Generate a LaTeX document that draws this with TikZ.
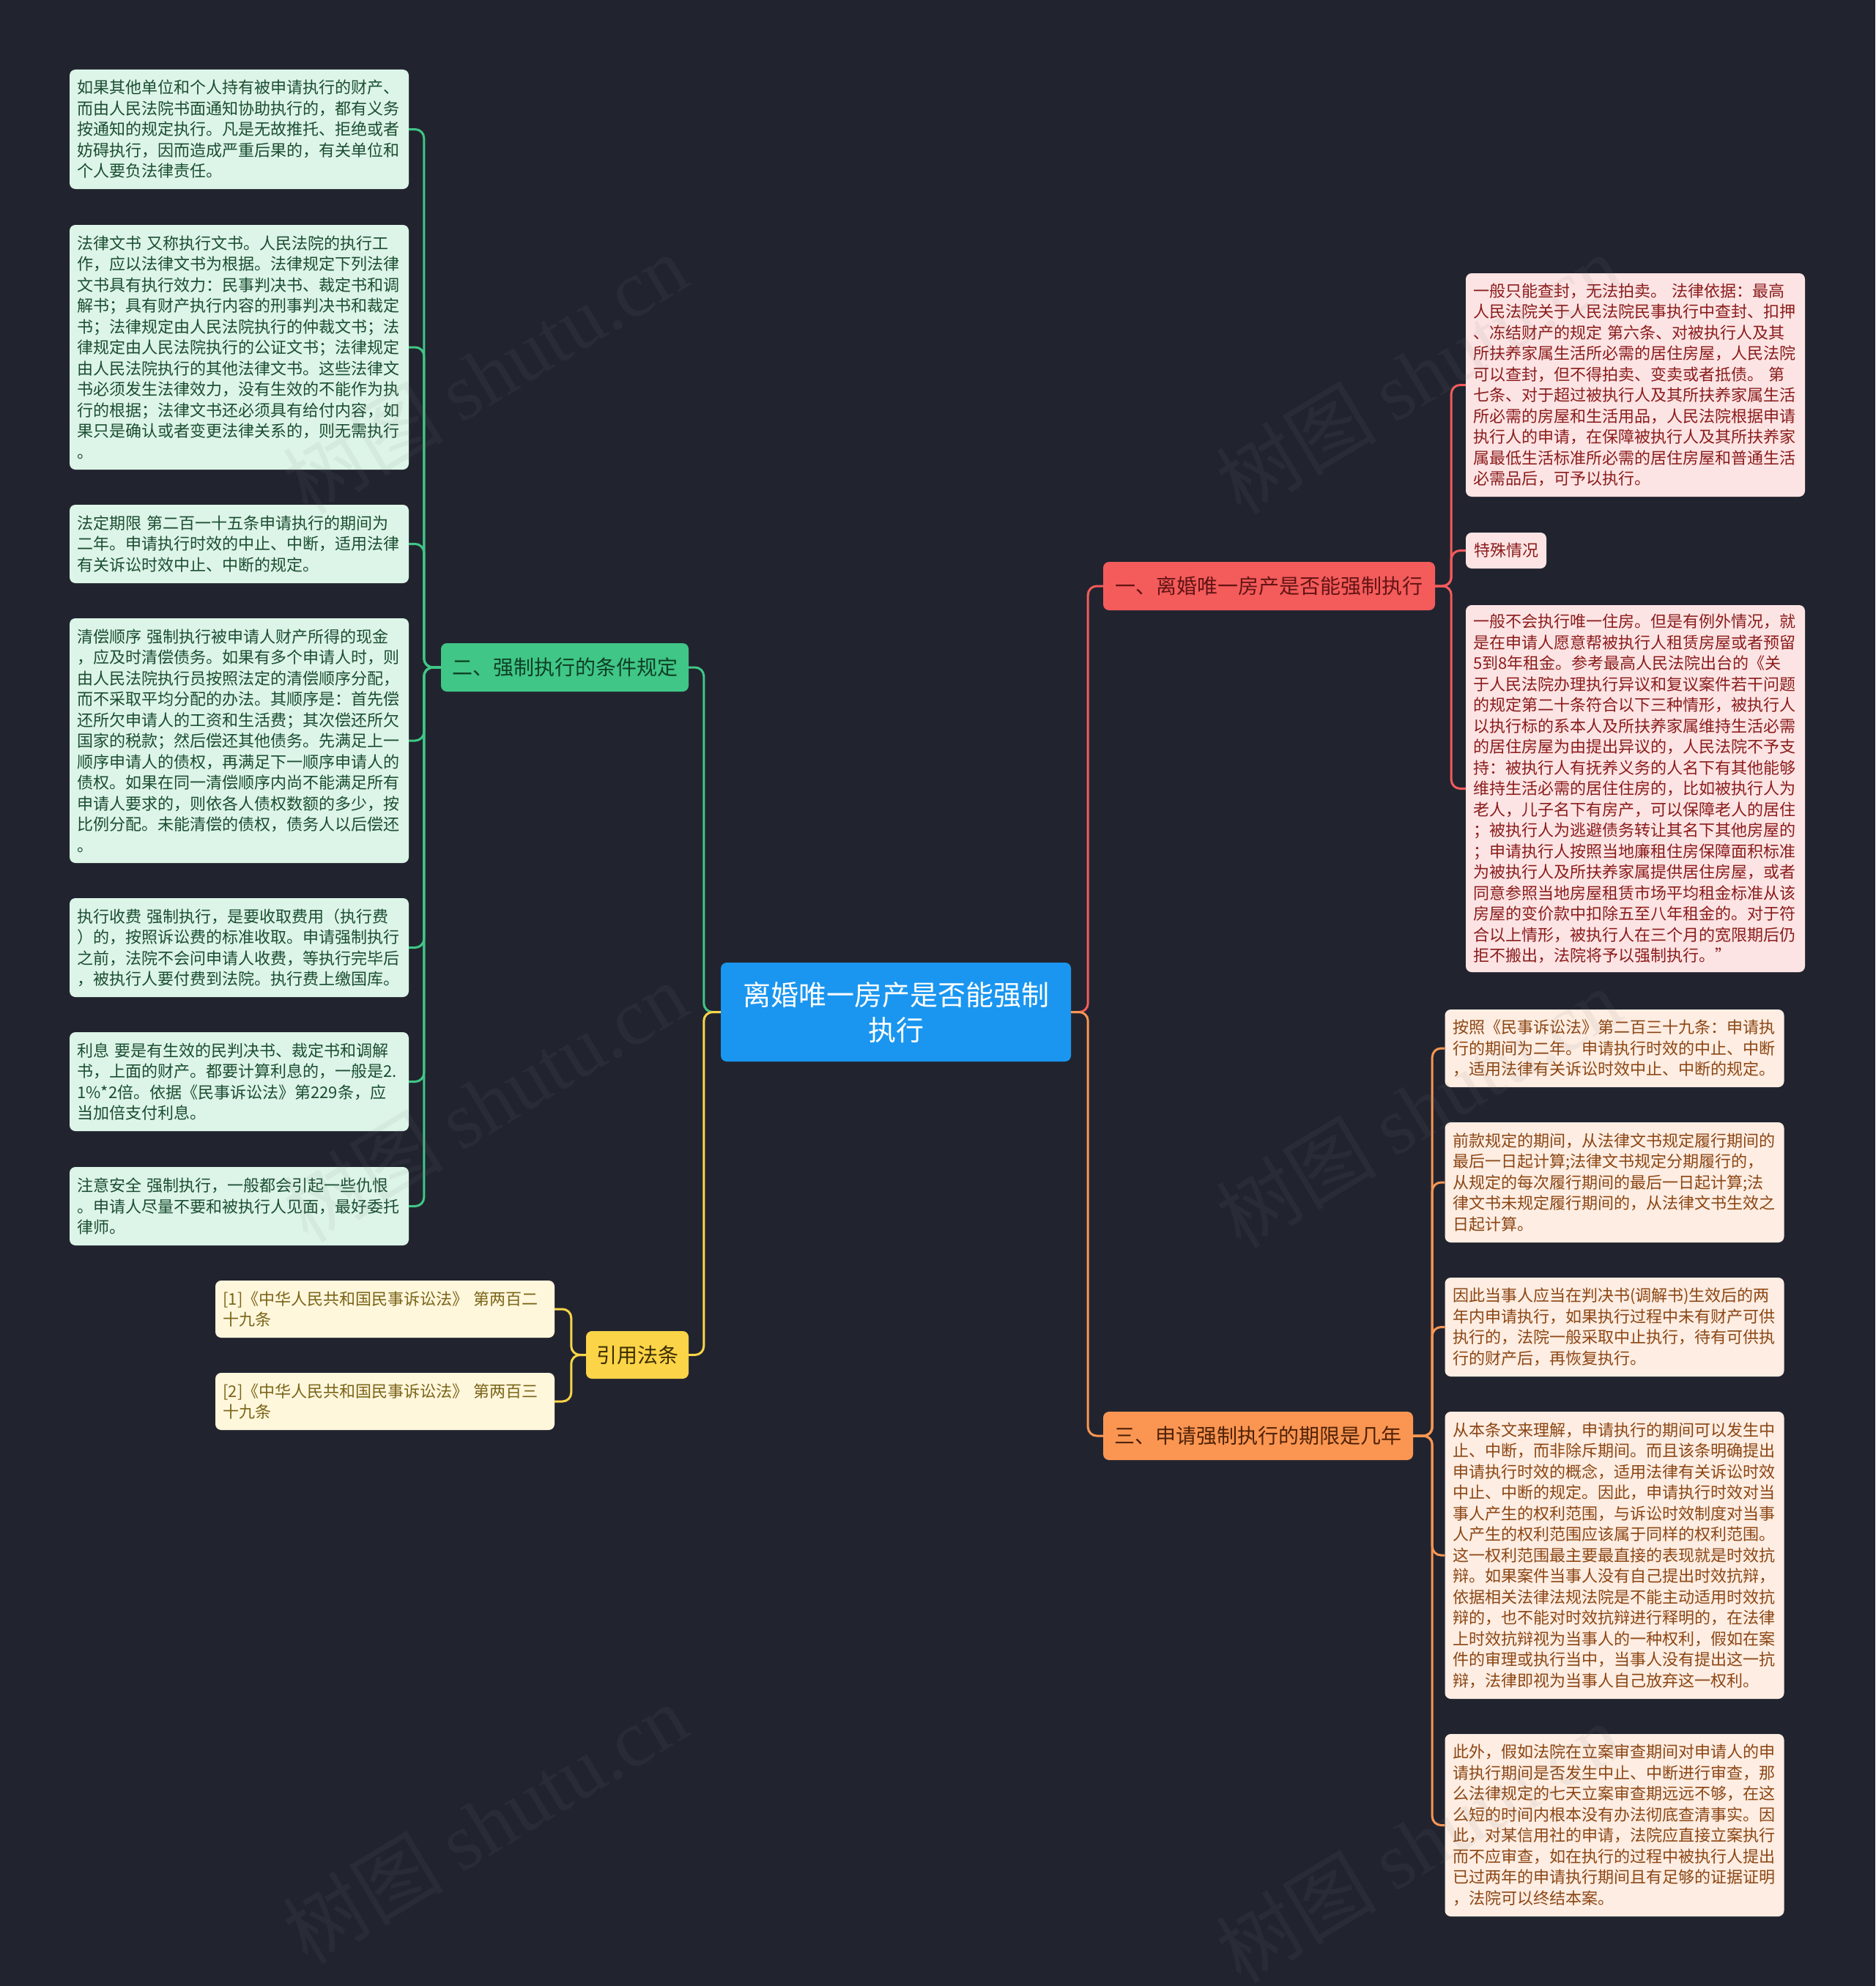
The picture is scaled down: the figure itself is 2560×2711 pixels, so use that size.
\documentclass[tikz,border=0pt]{standalone}
\usepackage{fontspec}
\setmainfont{Noto Sans CJK SC}
\newfontfamily\wmlatin{Liberation Serif}
\definecolor{bg}{RGB}{33,36,47}
\definecolor{cblue}{RGB}{26,150,240}
\definecolor{bred}{RGB}{244,91,91}
\definecolor{bgreen}{RGB}{64,198,134}
\definecolor{byellow}{RGB}{252,212,72}
\definecolor{borange}{RGB}{251,150,82}
\definecolor{tred}{RGB}{100,20,20}
\definecolor{tgreen}{RGB}{14,64,38}
\definecolor{tyellow}{RGB}{60,46,0}
\definecolor{torange}{RGB}{80,34,8}
\definecolor{gfill}{RGB}{221,245,232}
\definecolor{gtext}{RGB}{27,77,50}
\definecolor{rfill}{RGB}{253,228,228}
\definecolor{rtext}{RGB}{139,28,28}
\definecolor{ofill}{RGB}{253,237,226}
\definecolor{otext}{RGB}{140,70,20}
\definecolor{yfill}{RGB}{255,247,220}
\definecolor{ytext}{RGB}{122,100,24}
\definecolor{wmcol}{RGB}{128,128,128}
\tikzset{
  leaf/.style={rounded corners=8pt, text width=442pt, inner xsep=10.5pt, inner ysep=0pt,
    align=left, font=\fontsize{22pt}{28.5pt}\selectfont, anchor=center},
  gleaf/.style={leaf, fill=gfill, text=gtext},
  rleaf/.style={leaf, fill=rfill, text=rtext},
  oleaf/.style={leaf, fill=ofill, text=otext},
  yleaf/.style={leaf, fill=yfill, text=ytext},
  branch/.style={rounded corners=8pt, inner xsep=14pt, inner ysep=0pt, minimum height=66pt,
    font=\fontsize{28pt}{34pt}\selectfont, anchor=center},
  conn/.style={line width=3pt, rounded corners=12pt},
  gline/.style={conn, draw=bgreen},
  rline/.style={conn, draw=bred},
  yline/.style={conn, draw=byellow},
  oline/.style={conn, draw=borange},
  wmark/.style={rotate=31, text=wmcol, opacity=0.09, font=\fontsize{110pt}{110pt}\selectfont}
}
\begin{document}
\begin{tikzpicture}[x=1pt,y=-1pt]
\fill[bg] (0,0) rectangle (2560,2711);
\useasboundingbox (0,0) rectangle (2560,2711);

% central and main branches
\node[rounded corners=8pt, fill=cblue, text=white, minimum width=478pt, minimum height=135pt,
  align=center, inner sep=0pt, font=\fontsize{38pt}{48pt}\selectfont] (c) at (1223,1381.5)
  {离婚唯一房产是否能强制\\执行};
\node[branch, fill=bred, text=tred, minimum width=453pt] (b1) at (1732.5,800) {一、离婚唯一房产是否能强制执行};
\node[branch, fill=bgreen, text=tgreen, minimum width=338pt] (b2) at (771,911) {二、强制执行的条件规定};
\node[branch, fill=byellow, text=tyellow, minimum width=140pt, minimum height=65pt] (b4) at (870,1849.5) {引用法条};
\node[branch, fill=borange, text=torange, minimum width=423pt] (b3) at (1717.5,1960) {三、申请强制执行的期限是几年};

% green leaves
\node[gleaf, minimum height=163pt] (l1) at (326.5,176.5) {如果其他单位和个人持有被申请执行的财产、\\而由人民法院书面通知协助执行的，都有义务\\按通知的规定执行。凡是无故推托、拒绝或者\\妨碍执行，因而造成严重后果的，有关单位和\\个人要负法律责任。};
\node[gleaf, minimum height=334pt] (l2) at (326.5,474) {法律文书 又称执行文书。人民法院的执行工\\作，应以法律文书为根据。法律规定下列法律\\文书具有执行效力：民事判决书、裁定书和调\\解书；具有财产执行内容的刑事判决书和裁定\\书；法律规定由人民法院执行的仲裁文书；法\\律规定由人民法院执行的公证文书；法律规定\\由人民法院执行的其他法律文书。这些法律文\\书必须发生法律效力，没有生效的不能作为执\\行的根据；法律文书还必须具有给付内容，如\\果只是确认或者变更法律关系的，则无需执行\\。};
\node[gleaf, minimum height=107pt] (l3) at (326.5,742.5) {法定期限 第二百一十五条申请执行的期间为\\二年。申请执行时效的中止、中断，适用法律\\有关诉讼时效中止、中断的规定。};
\node[gleaf, minimum height=334pt] (l4) at (326.5,1011) {清偿顺序 强制执行被申请人财产所得的现金\\，应及时清偿债务。如果有多个申请人时，则\\由人民法院执行员按照法定的清偿顺序分配，\\而不采取平均分配的办法。其顺序是：首先偿\\还所欠申请人的工资和生活费；其次偿还所欠\\国家的税款；然后偿还其他债务。先满足上一\\顺序申请人的债权，再满足下一顺序申请人的\\债权。如果在同一清偿顺序内尚不能满足所有\\申请人要求的，则依各人债权数额的多少，按\\比例分配。未能清偿的债权，债务人以后偿还\\。};
\node[gleaf, minimum height=135pt] (l5) at (326.5,1293.5) {执行收费 强制执行，是要收取费用（执行费\\）的，按照诉讼费的标准收取。申请强制执行\\之前，法院不会问申请人收费，等执行完毕后\\，被执行人要付费到法院。执行费上缴国库。};
\node[gleaf, minimum height=135pt] (l6) at (326.5,1476.5) {利息 要是有生效的民判决书、裁定书和调解\\书，上面的财产。都要计算利息的，一般是2.\\1\%*2倍。依据《民事诉讼法》第229条，应\\当加倍支付利息。};
\node[gleaf, minimum height=107pt] (l7) at (326.5,1646.5) {注意安全 强制执行，一般都会引起一些仇恨\\。申请人尽量不要和被执行人见面，最好委托\\律师。};

% yellow leaves
\node[yleaf, minimum height=78pt] (y1) at (525.5,1787) {[1]《中华人民共和国民事诉讼法》 第两百二\\十九条};
\node[yleaf, minimum height=78pt] (y2) at (525.5,1913) {[2]《中华人民共和国民事诉讼法》 第两百三\\十九条};

% red leaves
\node[rleaf, minimum height=305pt] (r1) at (2232.5,525.5) {一般只能查封，无法拍卖。 法律依据：最高\\人民法院关于人民法院民事执行中查封、扣押\\、冻结财产的规定 第六条、对被执行人及其\\所扶养家属生活所必需的居住房屋，人民法院\\可以查封，但不得拍卖、变卖或者抵债。 第\\七条、对于超过被执行人及其所扶养家属生活\\所必需的房屋和生活用品，人民法院根据申请\\执行人的申请，在保障被执行人及其所扶养家\\属最低生活标准所必需的居住房屋和普通生活\\必需品后，可予以执行。};
\node[rounded corners=8pt, fill=rfill, text=rtext, inner xsep=11pt, inner ysep=0pt, minimum height=49pt,
  font=\fontsize{22pt}{28.5pt}\selectfont] (r2) at (2056,751.5) {特殊情况};
\node[rleaf, minimum height=501pt] (r3) at (2232.5,1076.5) {一般不会执行唯一住房。但是有例外情况，就\\是在申请人愿意帮被执行人租赁房屋或者预留\\5到8年租金。参考最高人民法院出台的《关\\于人民法院办理执行异议和复议案件若干问题\\的规定第二十条符合以下三种情形，被执行人\\以执行标的系本人及所扶养家属维持生活必需\\的居住房屋为由提出异议的，人民法院不予支\\持：被执行人有抚养义务的人名下有其他能够\\维持生活必需的居住住房的，比如被执行人为\\老人，儿子名下有房产，可以保障老人的居住\\；被执行人为逃避债务转让其名下其他房屋的\\；申请执行人按照当地廉租住房保障面积标准\\为被执行人及所扶养家属提供居住房屋，或者\\同意参照当地房屋租赁市场平均租金标准从该\\房屋的变价款中扣除五至八年租金的。对于符\\合以上情形，被执行人在三个月的宽限期后仍\\拒不搬出，法院将予以强制执行。”};

% orange leaves
\node[oleaf, minimum height=106pt] (o1) at (2204,1431) {按照《民事诉讼法》第二百三十九条：申请执\\行的期间为二年。申请执行时效的中止、中断\\，适用法律有关诉讼时效中止、中断的规定。};
\node[oleaf, minimum height=164pt] (o2) at (2204,1614) {前款规定的期间，从法律文书规定履行期间的\\最后一日起计算;法律文书规定分期履行的，\\从规定的每次履行期间的最后一日起计算;法\\律文书未规定履行期间的，从法律文书生效之\\日起计算。};
\node[oleaf, minimum height=135pt] (o3) at (2204,1811.5) {因此当事人应当在判决书(调解书)生效后的两\\年内申请执行，如果执行过程中未有财产可供\\执行的，法院一般采取中止执行，待有可供执\\行的财产后，再恢复执行。};
\node[oleaf, minimum height=392pt] (o4) at (2204,2123) {从本条文来理解，申请执行的期间可以发生中\\止、中断，而非除斥期间。而且该条明确提出\\申请执行时效的概念，适用法律有关诉讼时效\\中止、中断的规定。因此，申请执行时效对当\\事人产生的权利范围，与诉讼时效制度对当事\\人产生的权利范围应该属于同样的权利范围。\\这一权利范围最主要最直接的表现就是时效抗\\辩。如果案件当事人没有自己提出时效抗辩，\\依据相关法律法规法院是不能主动适用时效抗\\辩的，也不能对时效抗辩进行释明的，在法律\\上时效抗辩视为当事人的一种权利，假如在案\\件的审理或执行当中，当事人没有提出这一抗\\辩，法律即视为当事人自己放弃这一权利。};
\node[oleaf, minimum height=249pt] (o5) at (2204,2491.5) {此外，假如法院在立案审查期间对申请人的申\\请执行期间是否发生中止、中断进行审查，那\\么法律规定的七天立案审查期远远不够，在这\\么短的时间内根本没有办法彻底查清事实。因\\此，对某信用社的申请，法院应直接立案执行\\而不应审查，如在执行的过程中被执行人提出\\已过两年的申请执行期间且有足够的证据证明\\，法院可以终结本案。};

% connectors
\draw[gline] (c.west) -- ++(-23,0) |- (b2.east);
\draw[yline] (c.west) -- ++(-23,0) |- (b4.east);
\draw[rline] (c.east) -- ++(23,0) |- (b1.west);
\draw[oline] (c.east) -- ++(23,0) |- (b3.west);
\foreach \n in {l1,l2,l3,l4,l5,l6,l7} \draw[gline] (b2.west) -- ++(-23,0) |- (\n.east);
\foreach \n in {y1,y2} \draw[yline] (b4.west) -- ++(-20,0) |- (\n.east);
\foreach \n in {r1,r2,r3} \draw[rline] (b1.east) -- ++(22,0) |- (\n.west);
\foreach \n in {o1,o2,o3,o4,o5} \draw[oline] (b3.east) -- ++(26,0) |- (\n.west);

% watermarks
\node[wmark] (w1) at (662,510) {树图 {\wmlatin shutu.cn}};
\node[wmark] (w2) at (662,1504) {树图 {\wmlatin shutu.cn}};
\node[wmark] (w3) at (662,2489) {树图 {\wmlatin shutu.cn}};
\node[wmark] (w4) at (1936,510) {树图 {\wmlatin shutu.cn}};
\node[wmark] (w5) at (1936,1512) {树图 {\wmlatin shutu.cn}};
\node[wmark] (w6) at (1936,2515) {树图 {\wmlatin shutu.cn}};
\end{tikzpicture}
\end{document}
